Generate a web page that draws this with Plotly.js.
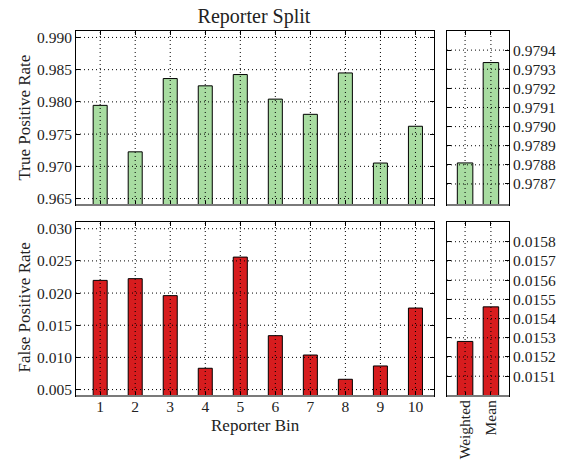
<!DOCTYPE html>
<html>
<head>
<meta charset="utf-8">
<script src="https://cdn.plot.ly/plotly-3.0.1.min.js"></script>
<style>html,body{margin:0;padding:0;background:#fff;}#chart{width:562px;height:464px;}</style>
</head>
<body>
<div id="chart"></div>
<script>
// ---- data ----
const bins = [1, 2, 3, 4, 5, 6, 7, 8, 9, 10];
const summaryLabels = ["Weighted", "Mean"];
const summaryPos = [0, 1];
const tpr = [0.97946, 0.97225, 0.98362, 0.98249, 0.98424, 0.98043, 0.97807, 0.98449, 0.97051, 0.97622];
const tprSummary = [0.97881, 0.979335];
const fpr = [0.02197, 0.02224, 0.01960, 0.00831, 0.02559, 0.01338, 0.01037, 0.00660, 0.00867, 0.01767];
const fprSummary = [0.015281, 0.015461];
const tprTicks = [0.965, 0.970, 0.975, 0.980, 0.985, 0.990];
const tprSummaryTicks = [0.9787, 0.9788, 0.9789, 0.9790, 0.9791, 0.9792, 0.9793, 0.9794];
const fprTicks = [0.005, 0.010, 0.015, 0.020, 0.025, 0.030];
const fprSummaryTicks = [0.0151, 0.0152, 0.0153, 0.0154, 0.0155, 0.0156, 0.0157, 0.0158];

const GREEN = "#a8dca1";
const RED = "#d71c1e";
const FONT = "Liberation Serif";

function barTrace(x, y, color, width, xa, ya) {
  return {type: "bar", x: x, y: y, width: width, xaxis: xa, yaxis: ya,
    marker: {color: color, line: {color: "#000", width: 1}},
    showlegend: false, hoverinfo: "x+y"};
}

const traces = [
  barTrace(bins, tpr, GREEN, 0.4, "x", "y"),
  barTrace(summaryPos, tprSummary, GREEN, 0.6, "x2", "y2"),
  barTrace(bins, fpr, RED, 0.4, "x3", "y3"),
  barTrace(summaryPos, fprSummary, RED, 0.6, "x4", "y4")
];

const tickFont = {family: FONT, size: 15.5, color: "#222"};
function axisBase(extra) {
  return Object.assign({
    showline: true, linecolor: "#000", linewidth: 1, mirror: "ticks",
    ticks: "inside", ticklen: 4, tickcolor: "#000", tickwidth: 1,
    showgrid: false, zeroline: false, tickfont: tickFont, fixedrange: true
  }, extra);
}

const xTopL = [0, 0.8268], xTopR = [0.8568, 1];
const yTop = [0.5233, 1], yBot = [0, 0.4759];

const layout = {
  width: 562, height: 464,
  margin: {l: 76, r: 53, t: 31, b: 68},
  paper_bgcolor: "#fff", plot_bgcolor: "#fff",
  font: {family: FONT, color: "#222"},
  bargap: 0,
  title: {text: "Reporter Split", font: {family: FONT, size: 20, color: "#222"},
    xref: "paper", x: 0.411, xanchor: "center", yref: "paper", y: 1.049, yanchor: "middle"},
  xaxis: axisBase({domain: xTopL, anchor: "y", range: [0.31, 10.53], tickvals: bins, showticklabels: false}),
  yaxis: axisBase({domain: yTop, anchor: "x", range: [0.964, 0.991], tickvals: tprTicks, tickformat: ".3f"}),
  xaxis2: axisBase({domain: xTopR, anchor: "y2", range: [-0.7, 1.7], tickvals: summaryPos, showticklabels: false}),
  yaxis2: axisBase({domain: yTop, anchor: "x2", side: "right", range: [0.97859, 0.97950], tickvals: tprSummaryTicks, tickformat: ".4f"}),
  xaxis3: axisBase({domain: xTopL, anchor: "y3", range: [0.31, 10.53], tickvals: bins, ticktext: bins.map(String), ticklabelstandoff: -4}),
  yaxis3: axisBase({domain: yBot, anchor: "x3", range: [0.004, 0.031], tickvals: fprTicks, tickformat: ".3f"}),
  xaxis4: axisBase({domain: xTopR, anchor: "y4", range: [-0.7, 1.7], tickvals: summaryPos, ticktext: summaryLabels, tickangle: -90, ticklabelstandoff: -3}),
  yaxis4: axisBase({domain: yBot, anchor: "x4", side: "right", range: [0.014997, 0.015901], tickvals: fprSummaryTicks, tickformat: ".4f"}),
  annotations: [
    {text: "True Positive Rate", xref: "paper", yref: "paper", x: -0.12, y: 0.763, textangle: -90,
      showarrow: false, font: {family: FONT, size: 17, color: "#222"}, xanchor: "center", yanchor: "middle"},
    {text: "False Positive Rate", xref: "paper", yref: "paper", x: -0.12, y: 0.2425, textangle: -90,
      showarrow: false, font: {family: FONT, size: 17, color: "#222"}, xanchor: "center", yanchor: "middle"},
    {text: "Reporter Bin", xref: "paper", yref: "paper", x: 0.4134, y: -0.082,
      showarrow: false, font: {family: FONT, size: 17, color: "#222"}, xanchor: "center", yanchor: "middle"}
  ],
  shapes: []
};

// dotted grid lines drawn above the bars (as in the reference)
const gridLine = {color: "#000", width: 1, dash: "1px,3px"};
function hGrid(xa, ya, vals) {
  vals.forEach(v => layout.shapes.push({type: "line", layer: "above", xref: xa + " domain", yref: ya,
    x0: 0, x1: 1, y0: v, y1: v, line: gridLine}));
}
function vGrid(xa, ya, vals) {
  vals.forEach(v => layout.shapes.push({type: "line", layer: "above", xref: xa, yref: ya + " domain",
    x0: v, x1: v, y0: 0, y1: 1, line: gridLine}));
}
hGrid("x", "y", tprTicks); vGrid("x", "y", bins);
hGrid("x2", "y2", tprSummaryTicks); vGrid("x2", "y2", summaryPos);
hGrid("x3", "y3", fprTicks); vGrid("x3", "y3", bins);
hGrid("x4", "y4", fprSummaryTicks); vGrid("x4", "y4", summaryPos);
// grey bottom spines
[["x","y"],["x2","y2"],["x3","y3"],["x4","y4"]].forEach(([xa, ya]) => layout.shapes.push({
  type: "line", layer: "above", xref: xa + " domain", yref: ya + " domain",
  x0: 0, x1: 1, y0: 0, y1: 0, line: {color: "#7a7a7a", width: 2}}));

Plotly.newPlot("chart", traces, layout, {staticPlot: true, displayModeBar: false});
</script>
</body>
</html>
